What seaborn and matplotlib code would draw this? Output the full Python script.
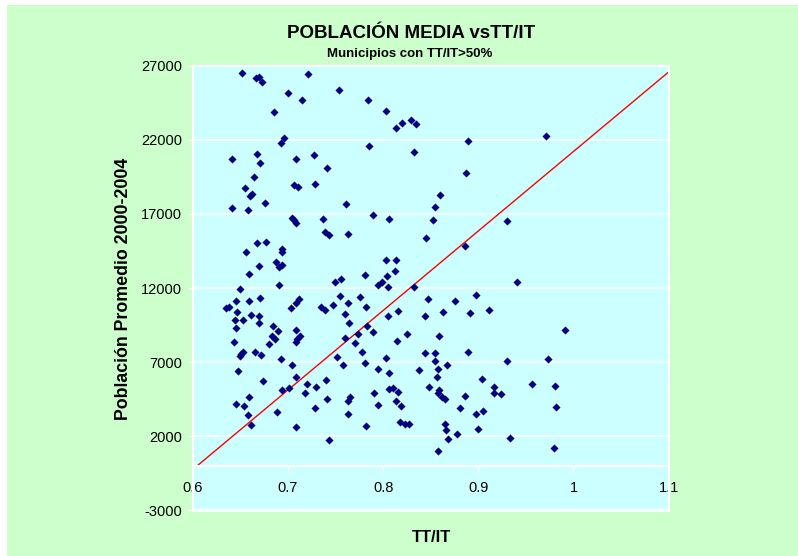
import numpy as np
import pandas as pd
import seaborn as sns
from matplotlib import pyplot as plt
from matplotlib.patches import Rectangle

# TT/IT ratio per municipality (x) and mean population 2000-2004 (y)
tt_it = [0.652, 0.666, 0.670, 0.673, 0.721, 0.700, 0.754, 0.715, 0.685, 0.696,
         0.693, 0.668, 0.641, 0.671, 0.708, 0.727, 0.741, 0.664, 0.655, 0.660,
         0.662, 0.706, 0.711, 0.728, 0.641, 0.658, 0.676, 0.761, 0.704, 0.706,
         0.709, 0.737, 0.739, 0.743, 0.763, 0.668, 0.677, 0.656, 0.694, 0.694,
         0.688, 0.691, 0.694, 0.670, 0.659, 0.650, 0.691, 0.750, 0.756,
         0.784, 0.803, 0.814, 0.820, 0.829, 0.835, 0.785, 0.889, 0.832, 0.887,
         0.860, 0.854, 0.852, 0.789, 0.806, 0.930, 0.845, 0.886, 0.803, 0.814,
         0.813, 0.804, 0.781, 0.795, 0.799, 0.805, 0.832,
         0.971, 0.941,
         0.645, 0.659, 0.671, 0.635, 0.638, 0.647, 0.644, 0.653, 0.661, 0.670,
         0.670, 0.646, 0.684, 0.690, 0.703, 0.709, 0.712, 0.735, 0.739, 0.747,
         0.755, 0.763, 0.760, 0.764, 0.709, 0.713, 0.710, 0.708, 0.680, 0.683,
         0.686, 0.643, 0.653, 0.650, 0.651, 0.665, 0.672, 0.693, 0.760, 0.752,
         0.758, 0.704, 0.648, 0.674, 0.709, 0.720, 0.730, 0.740, 0.694, 0.701,
         0.718, 0.741, 0.659, 0.646, 0.654, 0.658, 0.661, 0.689, 0.728, 0.765,
         0.763, 0.763, 0.709, 0.743,
         0.776, 0.782, 0.805, 0.816, 0.847, 0.863, 0.876, 0.898, 0.891, 0.911,
         0.844, 0.783, 0.789, 0.774, 0.771, 0.825, 0.815, 0.859, 0.778, 0.781,
         0.803, 0.844, 0.855, 0.855, 0.867, 0.889, 0.930, 0.795, 0.806, 0.838,
         0.858, 0.857, 0.790, 0.806, 0.810, 0.816, 0.814, 0.819, 0.795, 0.848,
         0.859, 0.858, 0.862, 0.865, 0.886, 0.904, 0.916, 0.917, 0.924, 0.881,
         0.898, 0.905, 0.782, 0.818, 0.823, 0.827, 0.865, 0.866, 0.868, 0.878,
         0.900, 0.933, 0.858,
         0.991, 0.973, 0.956, 0.981, 0.982, 0.980]

poblacion = [26550, 26210, 26230, 25890, 26480, 25150, 25400, 24670, 23900, 22140,
             21780, 21060, 20720, 20430, 20700, 21010, 20090, 19480, 18730, 18210,
             18330, 18980, 18850, 19000, 17400, 17290, 17740, 17650, 16750, 16570,
             16380, 16630, 15800, 15590, 15620, 15070, 15120, 14420, 14620, 14440,
             13740, 13400, 13580, 13470, 12930, 11960, 12230, 12430, 12640,
             24720, 23930, 22800, 23180, 23320, 23070, 21580, 21920, 21170, 19770,
             18300, 17450, 16570, 16950, 16680, 16500, 15410, 14830, 13920, 13880,
             13180, 12820, 12880, 12230, 12390, 12070, 12090,
             22300, 12390,
             11100, 11100, 11300, 10630, 10740, 10350, 9840, 9860, 10200, 10080,
             9630, 9320, 9450, 9090, 10630, 10960, 11260, 10690, 10540, 10830,
             11480, 10960, 10220, 9650, 9140, 8730, 8530, 8320, 8250, 8750,
             8570, 8370, 7690, 7420, 7550, 7670, 7440, 7220, 8640, 7370,
             6810, 6830, 6380, 5730, 6020, 5540, 5320, 5790, 5120, 5210,
             4890, 4530, 4640, 4140, 4050, 3400, 2770, 3600, 3900, 4640,
             4350, 3510, 2590, 1730,
             11390, 10690, 10080, 10420, 11280, 10380, 11100, 11550, 10310, 10490,
             10080, 9430, 9020, 8860, 8280, 8910, 8440, 8750, 7670, 6940,
             7260, 7600, 7640, 7100, 6830, 7670, 7060, 6520, 6240, 6450,
             6560, 6000, 4910, 5160, 5210, 4980, 4370, 4010, 4120, 5340,
             5140, 4890, 4620, 4510, 4710, 5840, 5340, 4930, 4870, 3870,
             3510, 3670, 2650, 2970, 2830, 2830, 2810, 2410, 1800, 2110,
             2450, 1890, 1010,
             9160, 7190, 5540, 5410, 3940, 1190]

# reference line (red)
line_x = [0.605, 1.1]
line_y = [0, 26600]

x_ticks = [0.6, 0.7, 0.8, 0.9, 1.0, 1.1]
x_labels = ['0.6', '0.7', '0.8', '0.9', '1', '1.1']
y_ticks = [-3000, 2000, 7000, 12000, 17000, 22000, 27000]

sns.set_theme(style='white')
plt.rcParams['font.family'] = ['Liberation Sans', 'DejaVu Sans']
plt.rcParams['text.color'] = 'black'

fig = plt.figure(figsize=(7.98, 5.56), dpi=100, facecolor='white')
# green chart area (thin white margin top/left)
fig.patches.append(Rectangle((7 / 798, 0), 1 - 7 / 798, 551 / 556,
                             transform=fig.transFigure, facecolor='#CCFFCC',
                             edgecolor='none', zorder=-10))

ax = fig.add_axes([192.7 / 798, (556 - 510) / 556, 476 / 798, 444 / 556])
ax.set_facecolor('#CCFFFF')

df = pd.DataFrame({'TT/IT': tt_it, 'poblacion': poblacion})

# horizontal white gridlines
for yt in y_ticks:
    ax.axhline(yt, color='white', lw=1.2, zorder=1)
ax.axhline(-3000, color='white', lw=2, zorder=1, clip_on=False)

sns.lineplot(x=line_x, y=line_y, color='red', lw=1, ax=ax, zorder=2)
sns.scatterplot(data=df, x='TT/IT', y='poblacion', marker='D', color='#000080',
                s=17, linewidth=0, ax=ax, zorder=3)

ax.set_xlim(0.6, 1.1)
ax.set_ylim(-3000, 27000)
ax.set_xticks(x_ticks)
ax.set_xticklabels(x_labels)
ax.set_yticks(y_ticks)
ax.set_yticklabels([str(v) for v in y_ticks])

# x axis crosses at y=0
ax.spines['bottom'].set_position(('data', 0))
for sp in ax.spines.values():
    sp.set_color('white')
    sp.set_linewidth(1.5)

ax.tick_params(axis='x', direction='out', length=4, width=1, color='white',
               pad=7, labelsize=10.5, labelcolor='black')
ax.tick_params(axis='y', direction='out', length=3.5, width=1, color='white',
               pad=4, labelsize=10.5, labelcolor='black')
ax.tick_params(bottom=True, left=True)

ax.set_xlabel('')
ax.set_ylabel('')

fig.text(431 / 798, 1 - 538 / 556, 'TT/IT', ha='center', va='center',
         fontsize=12, fontweight='bold', color='black')
fig.text(124 / 798, 1 - 289 / 556, 'Población Promedio 2000-2004', ha='center',
         va='center', rotation=90, fontsize=12.8, fontweight='bold', color='black')
fig.text(411 / 798, 1 - 34 / 556, 'POBLACIÓN MEDIA vsTT/IT', ha='center',
         va='center', fontsize=13.5, fontweight='bold', color='black')
fig.text(410 / 798, 1 - 53.5 / 556, 'Municipios con TT/IT>50%', ha='center',
         va='center', fontsize=9.5, fontweight='bold', color='black')

plt.savefig('out.png', dpi=100, facecolor=fig.get_facecolor())
